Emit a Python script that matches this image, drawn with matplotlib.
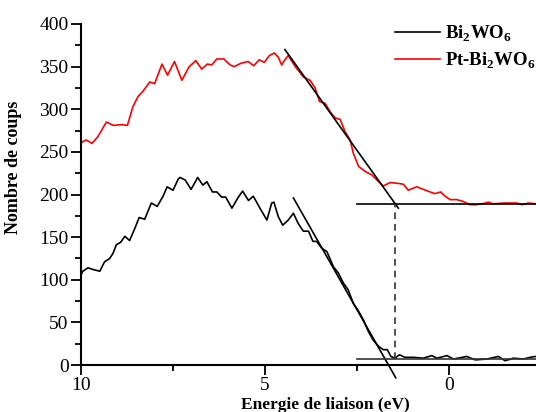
import matplotlib
matplotlib.use("Agg")
import matplotlib.pyplot as plt
from matplotlib.ticker import MultipleLocator

# Pt-Bi2WO6 (rouge)
red_x = [10.03, 9.86, 9.70, 9.54, 9.31, 9.12, 8.89, 8.74, 8.59, 8.45,
         8.32, 8.13, 8.00, 7.80, 7.65, 7.46, 7.26, 7.06, 6.88, 6.72,
         6.57, 6.45, 6.31, 6.12, 5.95, 5.84, 5.65, 5.46, 5.31, 5.16,
         5.02, 4.88, 4.75, 4.64, 4.55, 4.46, 4.37, 4.18, 3.96, 3.78,
         3.64, 3.52, 3.37, 3.23, 3.10, 2.96, 2.83, 2.69, 2.60, 2.46,
         2.28, 2.10, 1.96, 1.79, 1.60, 1.38, 1.24, 1.11, 0.88, 0.70,
         0.52, 0.38, 0.23, 0.11, -0.03, -0.21, -0.37, -0.57, -0.73, -0.89,
         -1.07, -1.20, -1.48, -1.66, -1.84, -1.98, -2.15, -2.36]
red_y = [260, 264, 260, 268, 285, 281, 282, 281, 303, 315,
         321, 332, 330, 353, 340, 356, 334, 350, 357, 347,
         353, 352, 359, 359, 352, 350, 354, 356, 351, 358,
         355, 363, 366, 361, 352, 358, 363, 350, 338, 334,
         325, 309, 307, 297, 290, 288, 274, 264, 248, 233,
         227, 223, 217, 210, 214, 213, 212, 205, 209, 206,
         203, 201, 203, 198, 194, 194, 192, 188, 188, 189,
         191, 189, 190, 190, 190, 188, 190, 189]

# Bi2WO6 (noir)
black_x = [10.04, 9.95, 9.81, 9.67, 9.49, 9.36, 9.22, 9.13, 9.04, 8.92,
           8.81, 8.68, 8.54, 8.42, 8.27, 8.09, 7.93, 7.77, 7.66, 7.50,
           7.36, 7.31, 7.17, 7.01, 6.83, 6.69, 6.58, 6.43, 6.31, 6.18,
           6.07, 5.90, 5.74, 5.61, 5.45, 5.32, 5.14, 4.95, 4.82, 4.76,
           4.64, 4.52, 4.37, 4.23, 4.10, 3.96, 3.82, 3.70, 3.60, 3.46,
           3.32, 3.14, 3.01, 2.87, 2.74, 2.60, 2.46, 2.33, 2.19, 2.06,
           1.92, 1.79, 1.68, 1.58, 1.47, 1.35, 1.20, 0.97, 0.70, 0.47,
           0.33, 0.06, -0.12, -0.48, -0.71, -1.02, -1.34, -1.52, -1.75, -2.02,
           -2.20, -2.35]
black_y = [102, 110, 114, 112, 110, 121, 125, 131, 141, 144,
           151, 146, 160, 173, 171, 190, 186, 198, 209, 205,
           218, 220, 217, 206, 220, 211, 215, 203, 203, 197,
           197, 184, 196, 204, 193, 198, 184, 170, 190, 191,
           174, 164, 170, 178, 166, 157, 157, 145, 145, 137,
           133, 115, 108, 96, 88, 72, 63, 53, 39, 29,
           22, 18, 18, 10, 8, 12, 9, 9, 8, 11,
           8, 11, 7, 10, 6, 7, 10, 5, 8, 7,
           9, 10]

# tangentes et lignes de base
red_tan_x = [4.46, 1.38]
red_tan_y = [370, 184]
black_tan_x = [4.23, 1.45]
black_tan_y = [196, -15]
base_x = [2.5, -2.36]
red_base = 188.6
black_base = 7
gap_x = 1.47

plt.rcParams["font.family"] = ["Liberation Serif", "DejaVu Serif"]
plt.rcParams["mathtext.fontset"] = "custom"
plt.rcParams["mathtext.rm"] = "Liberation Serif:bold"
plt.rcParams["mathtext.bf"] = "Liberation Serif:bold"

fig = plt.figure(figsize=(5.36, 4.12), dpi=100)
ax = fig.add_axes([81 / 536, 47 / 412, 455 / 536, 341 / 412])

ax.plot(black_x, black_y, color="black", lw=1.2, label=r"Bi$_2$WO$_6$")
ax.plot(red_x, red_y, color="red", lw=1.2, label=r"Pt-Bi$_2$WO$_6$")

ax.plot(red_tan_x, red_tan_y, color="black", lw=1.2, clip_on=False)
ax.plot(black_tan_x, black_tan_y, color="black", lw=1.2, clip_on=False)
ax.plot(base_x, [red_base, red_base], color="black", lw=1.2)
ax.plot(base_x, [black_base, black_base], color="#333333", lw=1.2)
ax.plot([gap_x, gap_x], [black_base, red_base], color="#333333", lw=1.2,
        ls=(0, (4, 3)))

ax.set_xlim(10, -2.36)
ax.set_ylim(0, 400)
ax.xaxis.set_major_locator(MultipleLocator(5))
ax.xaxis.set_minor_locator(MultipleLocator(2.5))
ax.yaxis.set_major_locator(MultipleLocator(50))
ax.yaxis.set_minor_locator(MultipleLocator(25))
ax.tick_params(which="major", length=7, width=1.3, labelsize=14, pad=2)
ax.tick_params(which="minor", length=4, width=1.3)
for s in ["top", "right"]:
    ax.spines[s].set_visible(False)
for s in ["left", "bottom"]:
    ax.spines[s].set_linewidth(1.5)

ax.set_xlabel("Energie de liaison (eV)", fontsize=12.5, fontweight="bold")
ax.xaxis.set_label_coords(0.536, -0.095)
ax.set_ylabel("Nombre de coups", fontsize=13, fontweight="bold")
ax.yaxis.set_label_coords(-0.13, 0.58)

ax.legend(loc="upper left", bbox_to_anchor=(0.69, 1.0), frameon=False,
          handlelength=2.4, handletextpad=0.25, borderpad=0, borderaxespad=0,
          labelspacing=0.35, prop={"weight": "bold", "size": 13.5})

fig.savefig("out.png", dpi=100)
